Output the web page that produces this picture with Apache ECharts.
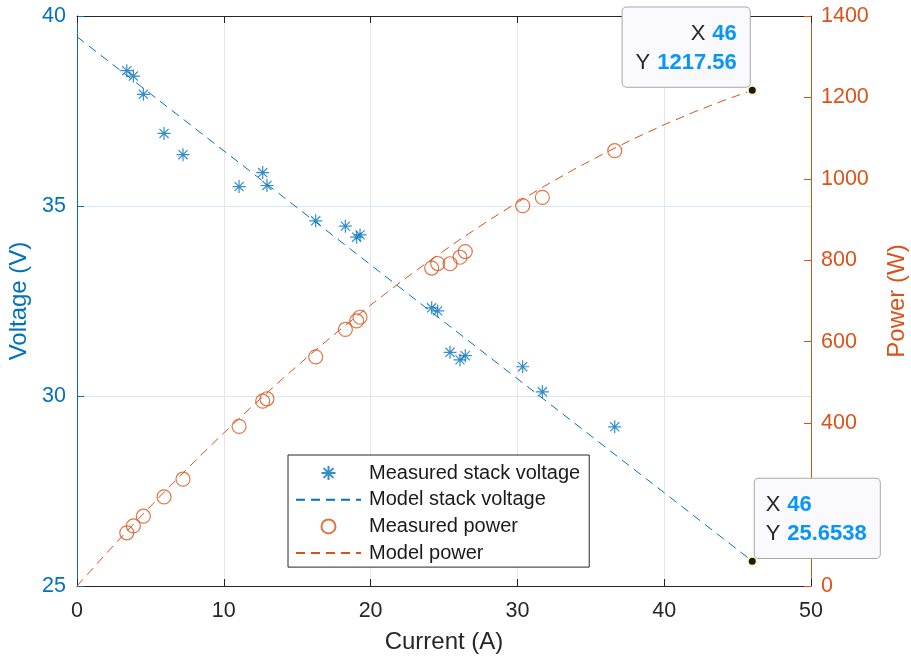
<!DOCTYPE html>
<html>
<head>
<meta charset="utf-8">
<title>Fuel cell stack: voltage and power vs current</title>
<script src="https://cdn.jsdelivr.net/npm/echarts@6/dist/echarts.min.js"></script>
<style>
  html, body { margin: 0; padding: 0; background: #ffffff; }
  #chart { width: 911px; height: 662px; }
</style>
</head>
<body>
<div id="chart"></div>
<script>
// Measured operating points of the stack
const currentA = [3.39, 3.84, 4.52, 5.93, 7.22, 11.04, 12.65, 12.94, 16.26, 18.28,
                  19.05, 19.28, 24.16, 24.57, 25.41, 26.09, 26.45, 30.36, 31.70, 36.63];
const stackVoltage = [38.56, 38.42, 37.94, 36.91, 36.35, 35.51, 35.88, 35.54, 34.61, 34.47,
                      34.18, 34.24, 32.32, 32.24, 31.15, 30.95, 31.06, 30.77, 30.11, 29.19];
const stackPower = [130.7, 147.5, 171.5, 218.9, 262.4, 392.0, 453.9, 459.9, 562.8, 630.1,
                    651.1, 660.1, 780.9, 792.1, 791.5, 807.5, 821.5, 934.2, 954.5, 1069.2];

// Fitted model curves
const modelVoltageCurrent = [0, 46];
const modelVoltage = [39.4538, 25.6538];
const modelPowerCurrent = [0, 2, 4, 6, 8, 10, 12, 14, 16, 18, 20, 22, 24,
                           26, 28, 30, 32, 34, 36, 38, 40, 42, 44, 46];
const modelPower = [0, 80.1, 157.8, 233.0, 305.7, 375.9, 443.7, 509.0, 571.8, 632.1, 690.0, 745.5, 798.4,
                    848.9, 896.8, 942.4, 985.5, 1026.0, 1064.2, 1099.7, 1133.0, 1163.7, 1191.9, 1217.56];

// Axis ranges
const currentAxis = { min: 0, max: 50, interval: 10 };
const voltageAxis = { min: 25, max: 40, interval: 5 };
const powerAxis = { min: 0, max: 1400, interval: 200 };

const legendNames = ['Measured stack voltage', 'Model stack voltage', 'Measured power', 'Model power'];

const BLUE = '#0072BD';
const ORANGE = '#D95319';
const DARK = '#262626';
const FONT = '"Liberation Sans", Arial, Helvetica, sans-serif';
const ASTERISK = 'path://M0,-1L0,1M-1,0L1,0M-0.7,-0.7L0.7,0.7M-0.7,0.7L0.7,-0.7';
const TIP_FONT = 22;
const TIP_LINE = 28.6;

const zip = (xs, ys) => xs.map((x, i) => [x, ys[i]]);
const lastPoint = (xs, ys) => [xs[xs.length - 1], ys[ys.length - 1]];
const plainNumber = (v) => String(v);

const modelVEnd = lastPoint(modelVoltageCurrent, modelVoltage);
const modelPEnd = lastPoint(modelPowerCurrent, modelPower);

// Data tip: marker dot plus a boxed X/Y readout
function dataTip(point, side) {
  const right = side === 'right';
  return {
    silent: true,
    symbol: 'circle',
    symbolSize: 9,
    itemStyle: { color: '#1a1a1a', borderColor: '#fff7c2', borderWidth: 2 },
    emphasis: { disabled: true },
    label: {
      show: true,
      position: right ? [3, 2] : [8, 2.3],
      align: right ? 'right' : 'left',
      verticalAlign: 'bottom',
      backgroundColor: '#f9f9fe',
      borderColor: '#a8a8a8',
      borderWidth: 1,
      borderRadius: 4,
      padding: right ? [12, 13, 10, 13] : [12, 13, 10, 11],
      lineHeight: TIP_LINE,
      fontFamily: FONT,
      fontSize: TIP_FONT,
      formatter: () => '{k|X}{v|' + point[0] + '}\n{k|Y}{v|' + point[1] + '}',
      rich: {
        k: right
          ? { color: DARK, fontSize: TIP_FONT, fontFamily: FONT, lineHeight: TIP_LINE, padding: [0, 7, 0, 0] }
          : { color: DARK, fontSize: TIP_FONT, fontFamily: FONT, lineHeight: TIP_LINE, width: 21.5 },
        v: { color: '#0a96f5', fontSize: TIP_FONT, fontWeight: 'bold', fontFamily: FONT, lineHeight: TIP_LINE }
      }
    },
    data: [{ coord: point }]
  };
}

const chart = echarts.init(document.getElementById('chart'), null, { renderer: 'canvas' });

chart.setOption({
  animation: false,
  backgroundColor: '#ffffff',
  textStyle: { fontFamily: FONT },
  grid: { left: 77, right: 100, top: 16, bottom: 76, containLabel: false, outerBoundsMode: 'none' },
  legend: {
    orient: 'vertical',
    left: 288,
    top: 455,
    padding: [8, 9, 4, 7],
    itemWidth: 65,
    itemHeight: 14,
    itemGap: 6.7,
    backgroundColor: '#ffffff',
    borderColor: DARK,
    borderWidth: 1,
    selectedMode: false,
    textStyle: { fontFamily: FONT, fontSize: 20, color: '#1a1a1a', lineHeight: 20, padding: [0, 0, 0, 3] },
    data: [
      { name: legendNames[0] },
      { name: legendNames[1], itemStyle: { opacity: 0 } },
      { name: legendNames[2] },
      { name: legendNames[3], itemStyle: { opacity: 0 } }
    ]
  },
  xAxis: [
    {
      type: 'value',
      position: 'bottom',
      min: currentAxis.min, max: currentAxis.max, interval: currentAxis.interval,
      name: 'Current (A)',
      nameLocation: 'middle',
      nameGap: 44,
      nameTextStyle: { color: DARK, fontSize: 24, fontFamily: FONT },
      axisLine: { show: true, onZero: false, lineStyle: { color: DARK, width: 1 } },
      axisTick: { show: true, inside: true, length: 7, lineStyle: { color: DARK } },
      axisLabel: { color: DARK, fontSize: 21.5, fontFamily: FONT, margin: 14, formatter: plainNumber },
      splitLine: { show: true, lineStyle: { color: '#e6e6e6', width: 1 } }
    },
    {
      type: 'value',
      position: 'top',
      min: currentAxis.min, max: currentAxis.max, interval: currentAxis.interval,
      axisLine: { show: true, onZero: false, lineStyle: { color: DARK, width: 1 } },
      axisTick: { show: true, inside: true, length: 7, lineStyle: { color: DARK } },
      axisLabel: { show: false },
      splitLine: { show: false }
    }
  ],
  yAxis: [
    {
      type: 'value',
      position: 'left',
      min: voltageAxis.min, max: voltageAxis.max, interval: voltageAxis.interval,
      name: 'Voltage (V)',
      nameLocation: 'middle',
      nameRotate: 90,
      nameGap: 40,
      nameTextStyle: { color: BLUE, fontSize: 24, fontFamily: FONT },
      axisLine: { show: true, onZero: false, lineStyle: { color: BLUE, width: 1 } },
      axisTick: { show: true, inside: true, length: 7, lineStyle: { color: BLUE } },
      axisLabel: { color: BLUE, fontSize: 21.5, fontFamily: FONT, margin: 11, formatter: plainNumber },
      splitLine: { show: true, lineStyle: { color: '#d8e7f4', width: 1 } }
    },
    {
      type: 'value',
      position: 'right',
      min: powerAxis.min, max: powerAxis.max, interval: powerAxis.interval,
      name: 'Power (W)',
      nameLocation: 'middle',
      nameRotate: 90,
      nameGap: 74,
      nameTextStyle: { color: ORANGE, fontSize: 24, fontFamily: FONT },
      axisLine: { show: true, onZero: false, lineStyle: { color: ORANGE, width: 1 } },
      axisTick: { show: true, inside: true, length: 7, lineStyle: { color: ORANGE } },
      axisLabel: { color: ORANGE, fontSize: 21.5, fontFamily: FONT, margin: 10, formatter: plainNumber },
      splitLine: { show: false }
    }
  ],
  series: [
    {
      name: legendNames[0],
      type: 'scatter',
      xAxisIndex: 0,
      yAxisIndex: 0,
      symbol: ASTERISK,
      symbolSize: 13,
      itemStyle: { color: BLUE, borderColor: BLUE, borderWidth: 1.2 },
      emphasis: { disabled: true },
      z: 4,
      data: zip(currentA, stackVoltage)
    },
    {
      name: legendNames[1],
      type: 'line',
      xAxisIndex: 0,
      yAxisIndex: 0,
      symbol: 'none',
      showSymbol: false,
      lineStyle: { color: BLUE, width: 1, type: [9, 6] },
      itemStyle: { color: BLUE },
      emphasis: { disabled: true },
      z: 3,
      data: zip(modelVoltageCurrent, modelVoltage),
      markPoint: dataTip(modelVEnd, 'left')
    },
    {
      name: legendNames[2],
      type: 'scatter',
      xAxisIndex: 0,
      yAxisIndex: 1,
      symbol: 'circle',
      symbolSize: 14,
      itemStyle: { color: 'transparent', borderColor: ORANGE, borderWidth: 1.2 },
      emphasis: { disabled: true },
      z: 4,
      data: zip(currentA, stackPower)
    },
    {
      name: legendNames[3],
      type: 'line',
      xAxisIndex: 0,
      yAxisIndex: 1,
      symbol: 'none',
      showSymbol: false,
      lineStyle: { color: ORANGE, width: 1, type: [9, 6] },
      itemStyle: { color: ORANGE },
      emphasis: { disabled: true },
      z: 3,
      data: zip(modelPowerCurrent, modelPower),
      markPoint: dataTip(modelPEnd, 'right')
    }
  ]
});
</script>
</body>
</html>
